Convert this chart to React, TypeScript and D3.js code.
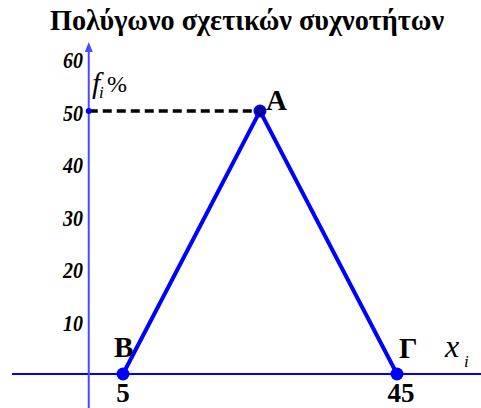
import React from "react";
import * as d3 from "d3";

// Frequency polygon: class midpoints (x) and relative frequencies f_i % (y)
const pointLabels = ["Β", "Α", "Γ"];
const xValues = [5, 25, 45];
const yValues = [0, 50, 0];
const yTicks = [10, 20, 30, 40, 50, 60];
const xTickValues = [5, 45];
const title = "Πολύγωνο σχετικών συχνοτήτων";

const W = 481;
const H = 408;
const serif = "Liberation Serif";

export default function App() {
  const x = d3.scaleLinear().domain([5, 45]).range([123, 397]);
  const y = d3.scaleLinear().domain([0, 50]).range([374, 111]);
  const line = d3
    .line<number>()
    .x((_, i) => x(xValues[i]))
    .y((d) => y(d));
  const blue = "#0000ff";
  const x0 = x(0);
  const peak = 1;
  const t = (extra: React.CSSProperties = {}): React.CSSProperties => ({
    fontFamily: serif,
    ...extra,
  });

  return (
    <svg
      width={W}
      height={H}
      style={{ position: "absolute", left: 0, top: 0, background: "#fff" }}
    >
      <text
        x={247}
        y={30}
        textAnchor="middle"
        style={t({ fontSize: 30, fontWeight: "bold" })}
        textLength={394}
        lengthAdjust="spacingAndGlyphs"
      >
        {title}
      </text>

      {/* axes */}
      <line x1={12} x2={W} y1={y(0)} y2={y(0)} stroke={blue} strokeWidth={2} />
      <line x1={x0} x2={x0} y1={H} y2={46} stroke="#4a4aff" strokeWidth={2} />
      <path
        d={`M${x0},${42} L${x0 - 4},${52} L${x0 + 4},${52} Z`}
        fill="#4a4aff"
      />

      {yTicks.map((v) => (
        <text
          key={v}
          x={83}
          y={y(v) + 9.5}
          textAnchor="end"
          style={t({ fontSize: 24, fontWeight: "bold", fontStyle: "italic" })}
          textLength={20}
          lengthAdjust="spacingAndGlyphs"
        >
          {v}
        </text>
      ))}
      {xTickValues.map((v) => (
        <text
          key={v}
          x={x(v) + (v >= 10 ? 4 : 0)}
          y={y(0) + 28}
          textAnchor="middle"
          style={t({ fontSize: 27, fontWeight: "bold" })}
        >
          {v}
        </text>
      ))}

      {/* axis titles */}
      <text x={92} y={93} style={t({ fontSize: 30, fontStyle: "italic" })}>
        f
      </text>
      <text x={99} y={98} style={t({ fontSize: 17, fontStyle: "italic" })}>
        i
      </text>
      <text
        x={107}
        y={92}
        style={t({ fontSize: 24 })}
        textLength={20}
        lengthAdjust="spacingAndGlyphs"
      >
        %
      </text>
      <text x={445} y={357} style={t({ fontSize: 32, fontStyle: "italic" })}>
        x
      </text>
      <text x={464} y={367} style={t({ fontSize: 17, fontStyle: "italic" })}>
        i
      </text>

      {/* guide to the peak */}
      <line
        x1={x0}
        x2={x(xValues[peak])}
        y1={y(yValues[peak])}
        y2={y(yValues[peak])}
        stroke="#000"
        strokeWidth={3.5}
        strokeDasharray="9,5"
      />
      <circle cx={x0} cy={y(yValues[peak])} r={3} fill={blue} />

      <path d={line(yValues) || ""} fill="none" stroke={blue} strokeWidth={4} />
      {yValues.map((v, i) => (
        <circle key={i} cx={x(xValues[i])} cy={y(v)} r={6.5} fill={blue} />
      ))}
      <path
        d={`M${x(xValues[peak])},${y(yValues[peak]) - 4} l4,4 l-4,4 l-4,-4 Z`}
        fill={blue}
        stroke="#000"
        strokeWidth={1.3}
      />

      {/* point labels */}
      <text x={266} y={110} style={t({ fontSize: 29, fontWeight: "bold" })}>
        {pointLabels[1]}
      </text>
      <text x={114} y={357} style={t({ fontSize: 29, fontWeight: "bold" })}>
        {pointLabels[0]}
      </text>
      <text x={399} y={358} style={t({ fontSize: 29, fontWeight: "bold" })}>
        {pointLabels[2]}
      </text>
    </svg>
  );
}
